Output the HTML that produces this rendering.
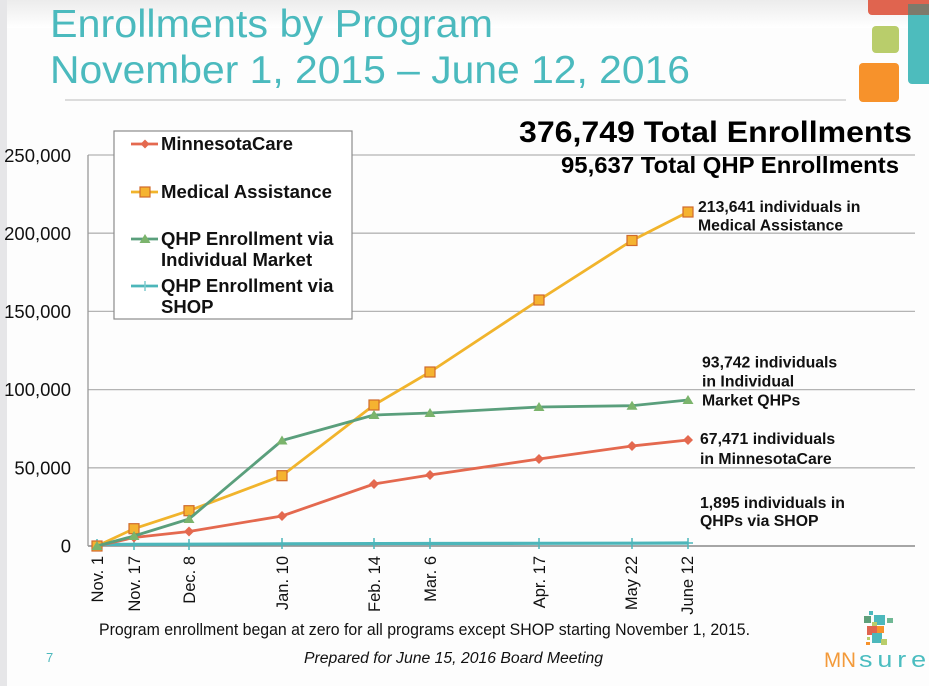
<!DOCTYPE html>
<html>
<head>
<meta charset="utf-8">
<style>
html,body{margin:0;padding:0;background:#fff;}
body{width:929px;height:686px;overflow:hidden;}
svg{display:block;font-family:"Liberation Sans",Arial,sans-serif;}
</style>
</head>
<body>
<svg width="929" height="686" viewBox="0 0 929 686" xmlns="http://www.w3.org/2000/svg">
  <defs>
    <linearGradient id="topg" x1="0" y1="0" x2="0" y2="1">
      <stop offset="0" stop-color="#ececec"/>
      <stop offset="1" stop-color="#ffffff"/>
    </linearGradient>
  </defs>
  <rect x="0" y="0" width="929" height="686" fill="#fdfdfd"/>
  <rect x="0" y="0" width="929" height="28" fill="url(#topg)"/>
  <rect x="0" y="0" width="7" height="686" fill="#e6e6e8"/>

  <!-- top-right logo blocks -->
  <rect x="868" y="-6" width="70" height="21" rx="4" fill="#e0644f"/>
  <rect x="908" y="4" width="30" height="80" rx="4" fill="#4dbcbd"/>
  <rect x="908" y="4" width="21" height="11" fill="#7e7a6b"/>
  <rect x="872" y="26" width="27" height="27" rx="4" fill="#b9cd6b"/>
  <rect x="859" y="63" width="40" height="39" rx="4" fill="#f7922b"/>

  <!-- title -->
  <text x="50" y="37" font-size="39" fill="#4bbabe" textLength="443" lengthAdjust="spacingAndGlyphs">Enrollments by Program</text>
  <text x="50" y="83" font-size="39" fill="#4bbabe" textLength="640" lengthAdjust="spacingAndGlyphs">November 1, 2015 – June 12, 2016</text>
  <line x1="65" y1="100" x2="846" y2="100" stroke="#d2d2d2" stroke-width="1.5"/>

  <!-- gridlines -->
  <g stroke="#b4b4b4" stroke-width="1.3">
    <line x1="88" y1="155" x2="915" y2="155"/>
    <line x1="88" y1="233.2" x2="915" y2="233.2"/>
    <line x1="88" y1="311.4" x2="915" y2="311.4"/>
    <line x1="88" y1="389.6" x2="915" y2="389.6"/>
    <line x1="88" y1="467.8" x2="915" y2="467.8"/>
  </g>
  <line x1="88" y1="546" x2="915" y2="546" stroke="#8a8a8a" stroke-width="1.5"/>
  <line x1="88" y1="155" x2="88" y2="546" stroke="#9a9a9a" stroke-width="1.3"/>

  <!-- y labels -->
  <g font-size="18.5" fill="#111" text-anchor="end">
    <text x="71" y="162">250,000</text>
    <text x="71" y="240">200,000</text>
    <text x="71" y="318">150,000</text>
    <text x="71" y="396">100,000</text>
    <text x="71" y="474.5">50,000</text>
    <text x="71" y="552.5">0</text>
  </g>

  <!-- x labels -->
  <g font-size="16.5" fill="#111" text-anchor="end">
    <text transform="translate(103,556) rotate(-90)">Nov. 1</text>
    <text transform="translate(140,556) rotate(-90)">Nov. 17</text>
    <text transform="translate(195,556) rotate(-90)">Dec. 8</text>
    <text transform="translate(288,556) rotate(-90)">Jan. 10</text>
    <text transform="translate(380,556) rotate(-90)">Feb. 14</text>
    <text transform="translate(436,556) rotate(-90)">Mar. 6</text>
    <text transform="translate(545,556) rotate(-90)">Apr. 17</text>
    <text transform="translate(637,556) rotate(-90)">May 22</text>
    <text transform="translate(693,556) rotate(-90)">June 12</text>
  </g>

  <!-- SHOP series -->
  <polyline points="97,544.5 134,544.3 189,544.2 282,543.8 374,543.6 430,543.5 539,543.3 632,543.2 688,543" fill="none" stroke="#4cb6ba" stroke-width="3.2"/>
  <g stroke="#4cb6ba" stroke-width="1.5">
    <line x1="97" y1="539" x2="97" y2="550"/><line x1="92" y1="544.5" x2="102" y2="544.5"/>
    <line x1="134" y1="539" x2="134" y2="550"/>
    <line x1="189" y1="539" x2="189" y2="550"/>
    <line x1="282" y1="538" x2="282" y2="549"/>
    <line x1="374" y1="538" x2="374" y2="549"/>
    <line x1="430" y1="538" x2="430" y2="549"/>
    <line x1="539" y1="538" x2="539" y2="549"/>
    <line x1="632" y1="538" x2="632" y2="549"/>
    <line x1="688" y1="538" x2="688" y2="549"/><line x1="683" y1="543" x2="693" y2="543"/>
  </g>

  <!-- MinnesotaCare -->
  <polyline points="97,546 134,537.5 189,531.5 282,516 374,484 430,475 539,459 632,446 688,440" fill="none" stroke="#e4694f" stroke-width="2.8" stroke-linejoin="round"/>
  <g fill="#e4694f">
    <polygon points="97,541 102,546 97,551 92,546"/>
    <polygon points="134,532.5 139,537.5 134,542.5 129,537.5"/>
    <polygon points="189,526.5 194,531.5 189,536.5 184,531.5"/>
    <polygon points="282,511 287,516 282,521 277,516"/>
    <polygon points="374,479 379,484 374,489 369,484"/>
    <polygon points="430,470 435,475 430,480 425,475"/>
    <polygon points="539,454 544,459 539,464 534,459"/>
    <polygon points="632,441 637,446 632,451 627,446"/>
    <polygon points="688,435 693,440 688,445 683,440"/>
  </g>

  <!-- Medical Assistance -->
  <polyline points="97,546 134,528.7 189,510.7 282,475.7 374,405 430,372 539,300 632,240.5 688,212" fill="none" stroke="#f1b42c" stroke-width="2.8" stroke-linejoin="round"/>
  <g fill="#f5b330" stroke="#d06a2c" stroke-width="1.2">
    <rect x="92" y="541" width="10" height="10"/>
    <rect x="129" y="523.7" width="10" height="10"/>
    <rect x="184" y="505.7" width="10" height="10"/>
    <rect x="277" y="470.7" width="10" height="10"/>
    <rect x="369" y="400" width="10" height="10"/>
    <rect x="425" y="367" width="10" height="10"/>
    <rect x="534" y="295" width="10" height="10"/>
    <rect x="627" y="235.5" width="10" height="10"/>
    <rect x="683" y="207" width="10" height="10"/>
  </g>

  <!-- QHP Individual -->
  <polyline points="97,546 134,536 189,519 282,440.5 374,415 430,413 539,407 632,405.7 688,400" fill="none" stroke="#5a9f7c" stroke-width="2.8" stroke-linejoin="round"/>
  <g fill="#7bb46c">
    <polygon points="97,541 102.5,550 91.5,550"/>
    <polygon points="134,531 139.5,540 128.5,540"/>
    <polygon points="189,514 194.5,523 183.5,523"/>
    <polygon points="282,435.5 287.5,444.5 276.5,444.5"/>
    <polygon points="374,410 379.5,419 368.5,419"/>
    <polygon points="430,408 435.5,417 424.5,417"/>
    <polygon points="539,402 544.5,411 533.5,411"/>
    <polygon points="632,400.7 637.5,409.7 626.5,409.7"/>
    <polygon points="688,395 693.5,404 682.5,404"/>
  </g>

  <!-- legend -->
  <rect x="114" y="131" width="238" height="188" fill="#ffffff" stroke="#8c8c8c" stroke-width="1.2"/>
  <line x1="131" y1="144" x2="158" y2="144" stroke="#e4694f" stroke-width="2.8"/>
  <polygon points="145,139.5 149.5,144 145,148.5 140.5,144" fill="#e4694f"/>
  <line x1="131" y1="192" x2="158" y2="192" stroke="#f1b42c" stroke-width="2.8"/>
  <rect x="140" y="187" width="10" height="10" fill="#f5b330" stroke="#d06a2c" stroke-width="1.2"/>
  <line x1="131" y1="239" x2="158" y2="239" stroke="#5a9f7c" stroke-width="2.8"/>
  <polygon points="145,234 150.5,243 139.5,243" fill="#7bb46c"/>
  <line x1="131" y1="286" x2="158" y2="286" stroke="#4cb6ba" stroke-width="2.8"/>
  <line x1="145" y1="281" x2="145" y2="291" stroke="#7fcbce" stroke-width="1.5"/>
  <g font-size="18.5" font-weight="bold" fill="#111">
    <text x="161" y="150" textLength="132" lengthAdjust="spacingAndGlyphs">MinnesotaCare</text>
    <text x="161" y="198" textLength="171" lengthAdjust="spacingAndGlyphs">Medical Assistance</text>
    <text x="161" y="245">QHP Enrollment via</text>
    <text x="161" y="266">Individual Market</text>
    <text x="161" y="292">QHP Enrollment via</text>
    <text x="161" y="313">SHOP</text>
  </g>

  <!-- totals -->
  <text x="519" y="142" font-size="30" font-weight="bold" fill="#000" textLength="393" lengthAdjust="spacingAndGlyphs">376,749 Total Enrollments</text>
  <text x="561" y="173" font-size="23.5" font-weight="bold" fill="#000" textLength="338" lengthAdjust="spacingAndGlyphs">95,637 Total QHP Enrollments</text>

  <!-- annotations -->
  <g font-size="15.8" font-weight="bold" fill="#111">
    <text x="698" y="212">213,641 individuals in</text>
    <text x="698" y="230.5">Medical Assistance</text>
    <text x="702" y="367.5">93,742 individuals</text>
    <text x="702" y="386.5">in Individual</text>
    <text x="702" y="405.5">Market QHPs</text>
    <text x="700" y="444">67,471 individuals</text>
    <text x="700" y="464">in MinnesotaCare</text>
    <text x="700" y="508">1,895 individuals in</text>
    <text x="700" y="526">QHPs via SHOP</text>
  </g>

  <!-- footer -->
  <text x="99" y="635" font-size="16.3" fill="#111" textLength="651" lengthAdjust="spacingAndGlyphs">Program enrollment began at zero for all programs except SHOP starting November 1, 2015.</text>
  <text x="304" y="663" font-size="15.5" font-style="italic" fill="#111" textLength="299" lengthAdjust="spacingAndGlyphs">Prepared for June 15, 2016 Board Meeting</text>
  <text x="46" y="662" font-size="13" fill="#4cb8bc">7</text>

  <!-- MNsure logo -->
  <g>
    <rect x="869" y="611" width="4" height="4" fill="#4cb8bc"/>
    <rect x="864" y="616" width="7" height="7" fill="#5f9f7a"/>
    <rect x="874" y="615" width="11" height="10" fill="#4cb8bc"/>
    <rect x="887" y="618" width="6" height="5" fill="#6fb894"/>
    <rect x="872" y="622" width="5" height="5" fill="#b9cd6b"/>
    <rect x="867" y="626" width="10" height="9" fill="#e0644f"/>
    <rect x="877" y="626" width="7" height="7" fill="#f7922b"/>
    <rect x="872" y="633" width="10" height="10" fill="#4cb8bc"/>
    <rect x="867" y="637" width="3" height="3" fill="#b9cd6b"/>
    <rect x="866" y="642" width="4" height="3" fill="#f7922b"/>
    <rect x="881" y="639" width="6" height="6" fill="#b9cd6b"/>
  </g>
  <text x="824" y="667" font-size="21" fill="#f39a3a" textLength="32" lengthAdjust="spacingAndGlyphs">MN</text>
  <text x="859" y="667" font-size="22" fill="#4bbdc0" letter-spacing="4" textLength="72" lengthAdjust="spacingAndGlyphs">sure</text>
</svg>
</body>
</html>
